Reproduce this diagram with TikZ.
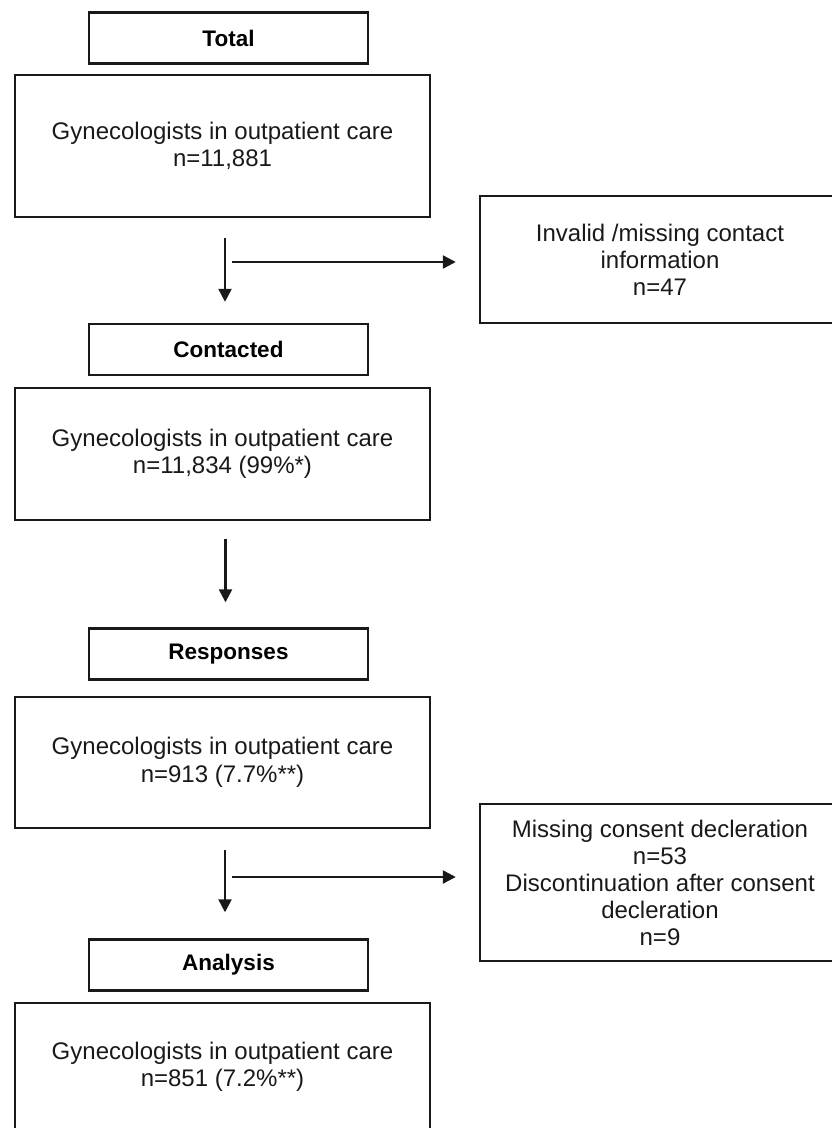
\documentclass[tikz,border=0pt]{standalone}
\usepackage{fontspec}
\setmainfont{Liberation Sans}
\usetikzlibrary{arrows.meta}

\begin{document}
\begin{tikzpicture}[x=1pt,y=-1pt,>={Triangle[length=13pt,width=13pt]},
    stage/.style={draw=black!90,line width=2.4pt,minimum width=279pt,minimum height=51pt,
      inner sep=0pt,font=\fontsize{22.5}{26}\selectfont\bfseries},
    count/.style={draw=black!90,line width=2.4pt,minimum width=415pt,inner sep=0pt,
      align=center,font=\fontsize{24}{27.5}\selectfont,text=black!90},
    excl/.style={draw=black!90,line width=2.4pt,minimum width=360pt,inner sep=0pt,
      align=center,font=\fontsize{24}{27}\selectfont,text=black!90},
    flow/.style={->,line width=2.4pt,draw=black!90}]
    \useasboundingbox (0,0) rectangle (832,1128);
    % left column
    \node[stage] (total)     at (228.5,38)  {Total} ;
    \node[count,minimum height=142pt] (gyn1) at (222.5,146)
      {Gynecologists in outpatient care\\n=11,881} ;
    \node[stage] (contacted) at (228.5,349.5) {Contacted} ;
    \node[count,minimum height=132pt] (gyn2) at (222.5,454)
      {Gynecologists in outpatient care\\n=11,834 (99\%*)} ;
    \node[stage] (responses) at (228.5,654) {Responses} ;
    \node[count,minimum height=131pt] (gyn3) at (222.5,762.5)
      {Gynecologists in outpatient care\\n=913 (7.7\%**)} ;
    \node[stage] (analysis)  at (228.5,965) {Analysis} ;
    \node[count,minimum height=128pt] (gyn4) at (222.5,1067)
      {Gynecologists in outpatient care\\n=851 (7.2\%**)} ;
    % exclusions
    \node[excl,minimum height=127pt] (invalid) at (660,259.5)
      {Invalid /missing contact\\information\\n=47} ;
    \node[excl,minimum height=157pt] (missing) at (660,882.5)
      {Missing consent decleration\\n=53\\Discontinuation after consent\\decleration\\n=9} ;
    \coordinate (cut1) at (232,262) ;
    \coordinate (cut2) at (232,877) ;
    % arrows
    \draw[flow] ([xshift=2.5pt,yshift=-20pt]gyn1.south) -- ([xshift=-3.5pt,yshift=21pt]contacted.north) ;
    \draw[flow] ([xshift=3pt,yshift=-18pt]gyn2.south) -- ([xshift=-3pt,yshift=25pt]responses.north) ;
    \draw[flow] ([xshift=2.5pt,yshift=-21pt]gyn3.south) -- ([xshift=-3.5pt,yshift=26pt]analysis.north) ;
    \draw[flow] (cut1) -- ([xshift=-23pt]cut1 -| invalid.west) ;
    \draw[flow] (cut2) -- ([xshift=-23pt]cut2 -| missing.west) ;
\end{tikzpicture}
\end{document}
